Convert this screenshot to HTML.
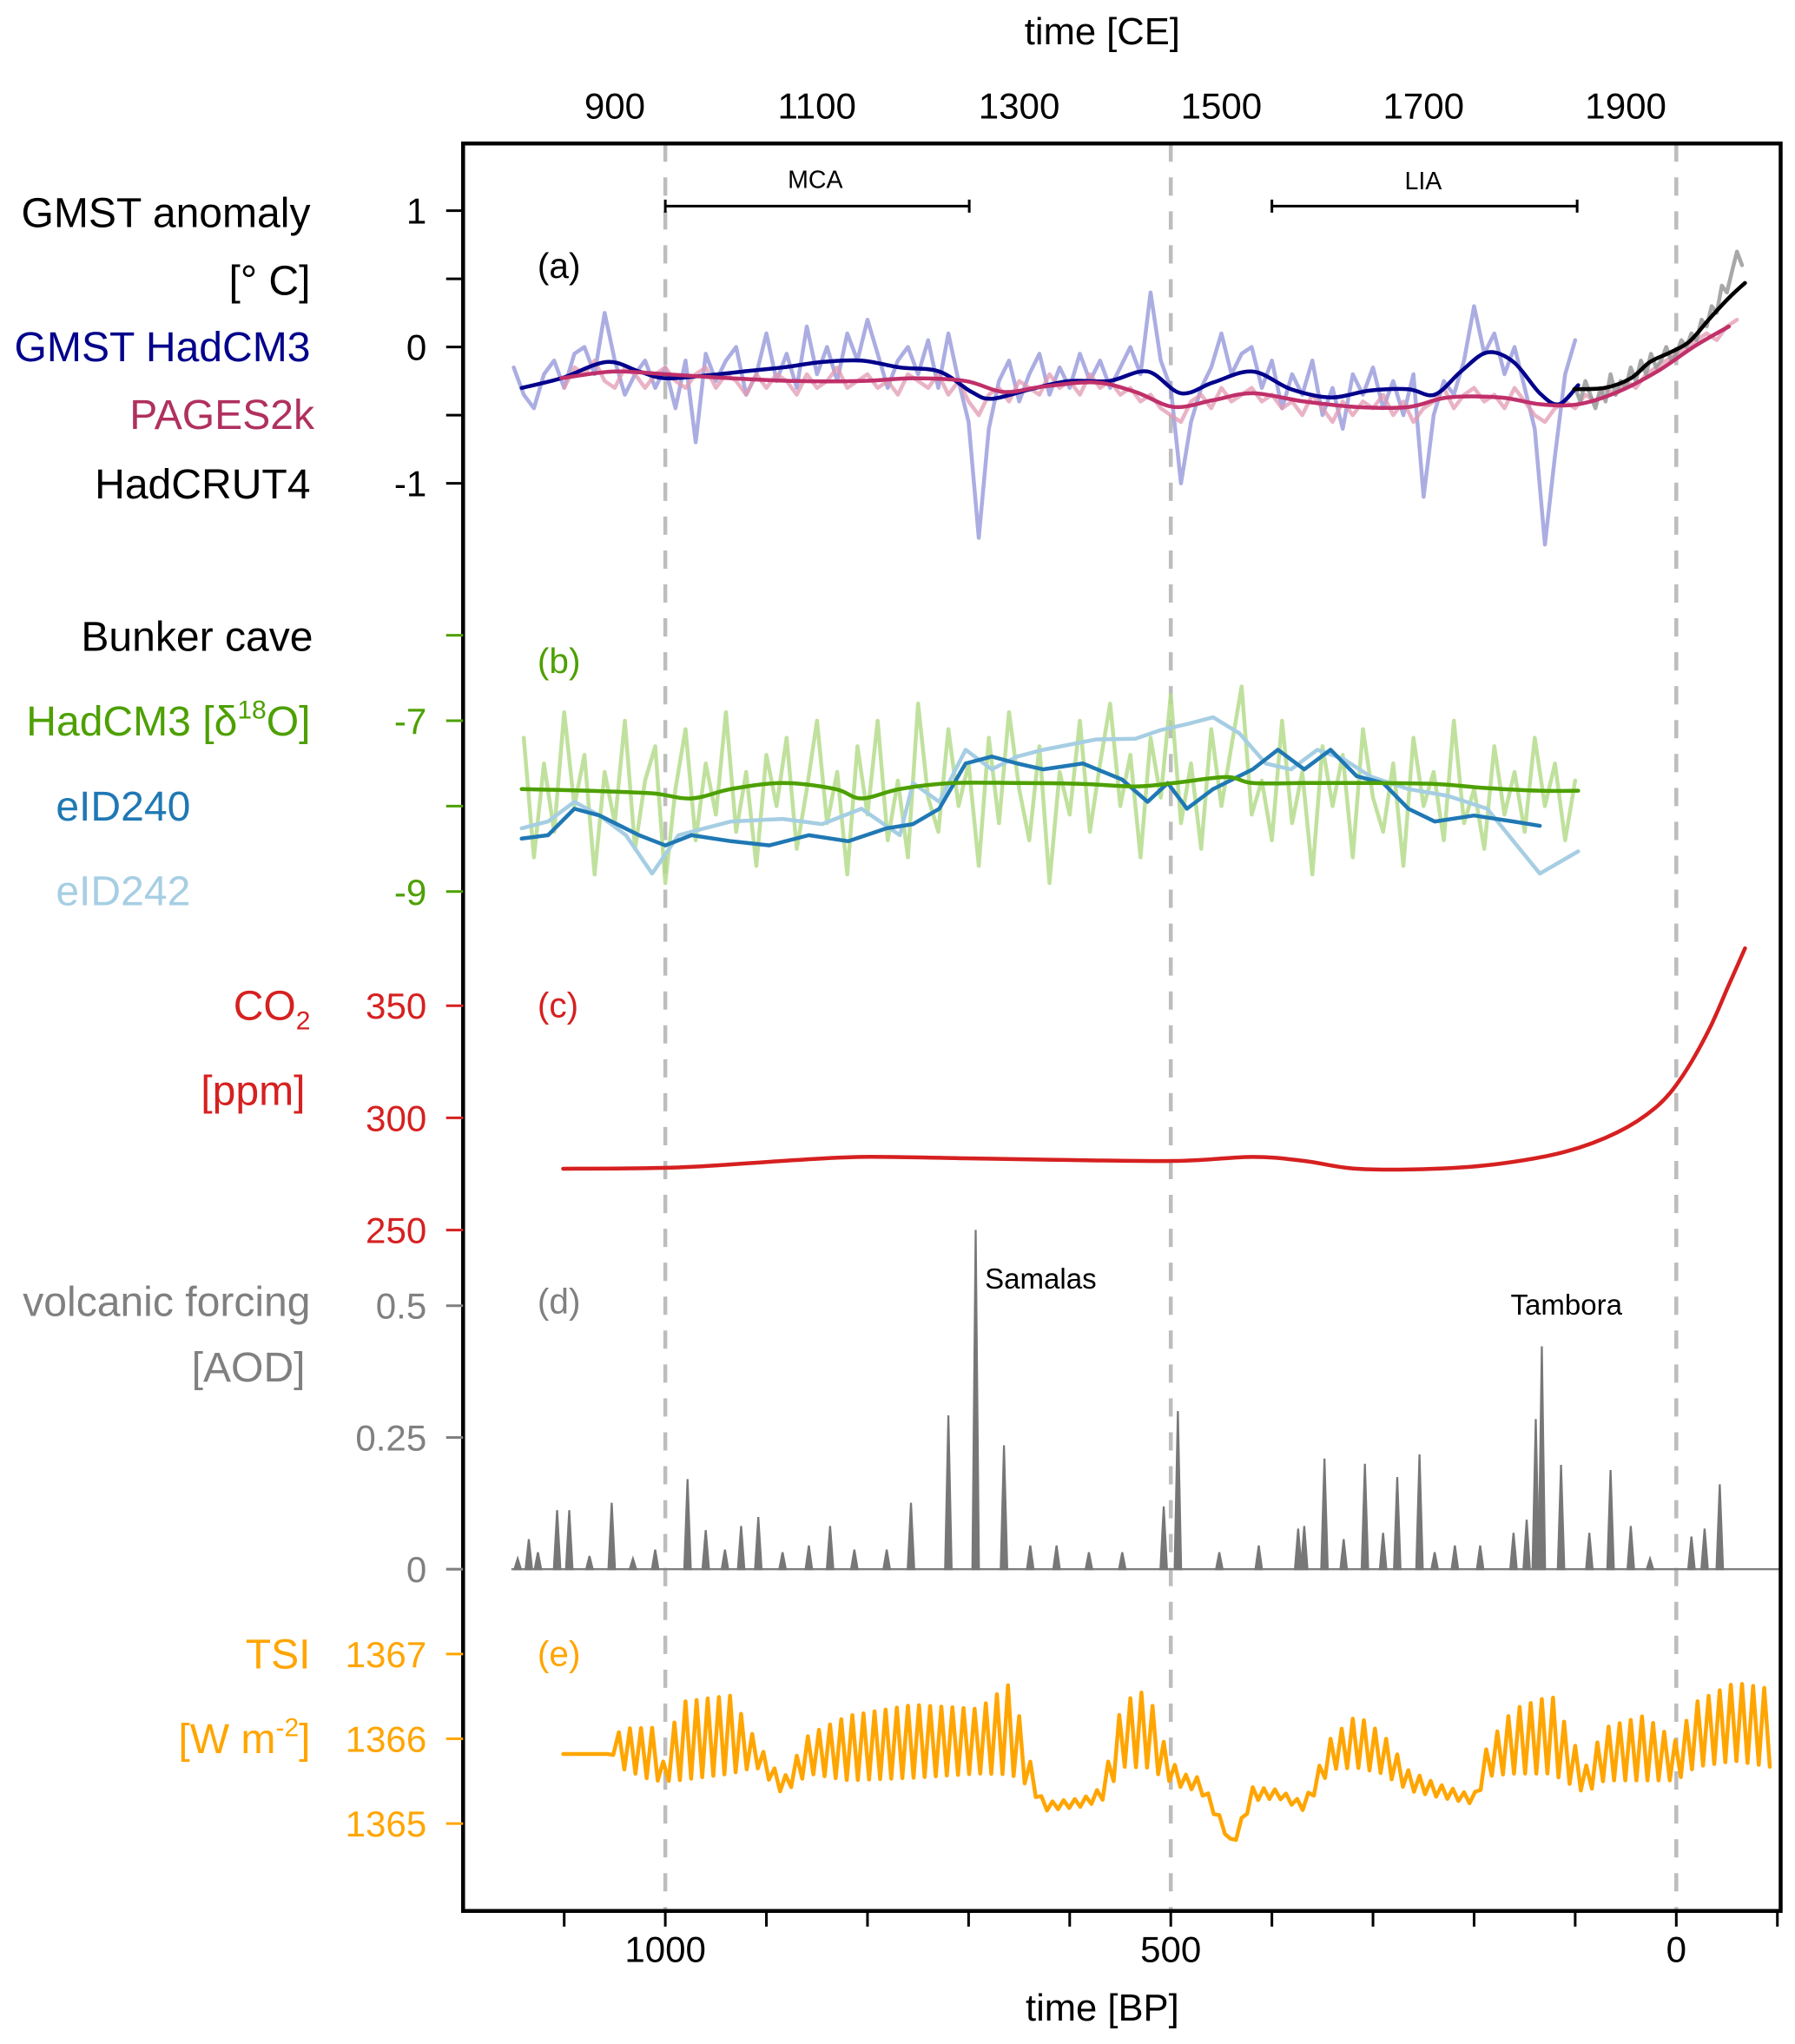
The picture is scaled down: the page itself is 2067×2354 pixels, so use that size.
<!DOCTYPE html>
<html><head><meta charset="utf-8"><title>Climate reconstruction chart</title>
<style>
html,body{margin:0;padding:0;background:#fff;}
svg{display:block;font-family:"Liberation Sans",Arial,sans-serif;}
</style></head>
<body>
<svg id="chart" width="2067" height="2354" viewBox="0 0 1376 1567" preserveAspectRatio="none" xmlns="http://www.w3.org/2000/svg">
<g id="grid"></g>
<g id="marks"></g>
<rect x="355" y="110" width="1010" height="1355" fill="none" stroke="#000" stroke-width="3"/>
<g id="axes"></g>
<g font-size="32" text-anchor="end">
<text x="238" y="174" fill="#000">GMST anomaly</text>
<text x="238" y="226" fill="#000">[° C]</text>
<text x="238" y="277" fill="#00008b">GMST HadCM3</text>
<text x="241" y="329" fill="#b0305f">PAGES2k</text>
<text x="238" y="382" fill="#000">HadCRUT4</text>
<text x="240" y="499" fill="#000">Bunker cave</text>
<text x="238" y="564" fill="#4da000">HadCM3 [δ<tspan font-size="20" dy="-13">18</tspan><tspan dy="13">O]</tspan></text>
<text x="146" y="629" fill="#1f78b4">eID240</text>
<text x="146" y="694" fill="#a6cee3">eID242</text>
<text x="238" y="782" fill="#d62020">CO<tspan font-size="20" dy="7">2</tspan></text>
<text x="234" y="847" fill="#d62020">[ppm]</text>
<text x="238" y="1009" fill="#808080">volcanic forcing</text>
<text x="234" y="1059" fill="#808080">[AOD]</text>
<text x="238" y="1279" fill="#ffa500">TSI</text>
<text x="238" y="1344" fill="#ffa500">[W m<tspan font-size="20" dy="-13">-2</tspan><tspan dy="13">]</tspan></text>
</g>
<g font-size="27">
<text x="412" y="213" fill="#000">(a)</text>
<text x="412" y="516" fill="#4da000">(b)</text>
<text x="412" y="780" fill="#d62020">(c)</text>
<text x="412" y="1007" fill="#808080">(d)</text>
<text x="412" y="1277" fill="#ffa500">(e)</text>
</g>
<g stroke="#000" stroke-width="2" fill="none">
<path d="M510 153V163M510 158H743M743 153V163"/>
<path d="M975 153V163M975 158H1209M1209 153V163"/>
</g>
<text x="625" y="144" font-size="19" text-anchor="middle">MCA</text>
<text x="1091" y="145" font-size="19" text-anchor="middle">LIA</text>
<text x="755" y="988" font-size="22">Samalas</text>
<text x="1158" y="1008" font-size="22">Tambora</text>
<text x="845" y="34" font-size="29" text-anchor="middle">time [CE]</text>
<text x="845" y="1549" font-size="29" text-anchor="middle">time [BP]</text>
</svg>
<script>
// ---------- data ----------
const gmstSmoothBP=[1142,1103,1058,1026,1000,961,923,884,845,806,768,729,697,677,639,600,561,523,490,458,419,381,342,303,265,239,213,187,161,135,116,97];
const gmstSmoothVal=[-0.30,-0.23,-0.11,-0.18,-0.23,-0.21,-0.18,-0.15,-0.11,-0.10,-0.15,-0.18,-0.33,-0.38,-0.31,-0.25,-0.25,-0.18,-0.34,-0.26,-0.18,-0.31,-0.37,-0.32,-0.31,-0.35,-0.18,-0.04,-0.11,-0.34,-0.42,-0.28];
const gmstNoisyStart=1150;
const gmstNoisyVal=[-0.15,-0.35,-0.45,-0.2,-0.1,-0.3,-0.05,0.0,-0.2,0.25,-0.1,-0.35,-0.2,-0.1,-0.3,-0.15,-0.45,-0.1,-0.7,-0.05,-0.25,-0.1,0.0,-0.35,-0.2,0.1,-0.25,-0.05,-0.3,0.15,-0.2,0.0,-0.25,0.1,-0.1,0.2,-0.05,-0.3,-0.1,0.0,-0.2,0.05,-0.3,0.1,-0.25,-0.55,-1.4,-0.6,-0.25,-0.1,-0.4,-0.2,-0.05,-0.35,-0.15,-0.3,-0.05,-0.25,-0.1,-0.3,-0.15,0.0,-0.2,0.4,-0.1,-0.3,-1.0,-0.55,-0.3,-0.15,0.1,-0.2,-0.05,0.0,-0.3,-0.1,-0.45,-0.2,-0.35,-0.1,-0.5,-0.3,-0.6,-0.2,-0.35,-0.15,-0.45,-0.25,-0.5,-0.2,-1.1,-0.5,-0.25,-0.35,-0.1,0.3,-0.05,0.1,-0.2,0.0,-0.3,-0.6,-1.45,-0.8,-0.2,0.05];
const pagesSmoothBP=[1103,1052,1000,935,871,806,755,703,665,626,574,535,497,458,419,368,316,265,226,174,135,97,58,19,-19,-52];
const pagesSmoothVal=[-0.23,-0.18,-0.20,-0.23,-0.25,-0.25,-0.23,-0.25,-0.33,-0.29,-0.26,-0.33,-0.44,-0.39,-0.34,-0.40,-0.44,-0.44,-0.37,-0.37,-0.42,-0.42,-0.33,-0.18,0.01,0.15];
const pagesNoisyStart=1100;
const pagesNoisyVal=[-0.3,-0.15,-0.2,-0.1,-0.25,-0.3,-0.15,-0.2,-0.3,-0.2,-0.15,-0.25,-0.3,-0.2,-0.15,-0.3,-0.2,-0.25,-0.35,-0.2,-0.3,-0.2,-0.25,-0.35,-0.2,-0.3,-0.25,-0.15,-0.3,-0.25,-0.2,-0.3,-0.25,-0.35,-0.2,-0.25,-0.3,-0.2,-0.35,-0.25,-0.4,-0.5,-0.35,-0.3,-0.4,-0.25,-0.3,-0.35,-0.2,-0.3,-0.25,-0.35,-0.2,-0.3,-0.25,-0.35,-0.3,-0.4,-0.35,-0.45,-0.5,-0.55,-0.4,-0.35,-0.45,-0.3,-0.4,-0.35,-0.3,-0.4,-0.35,-0.45,-0.4,-0.5,-0.35,-0.45,-0.55,-0.4,-0.5,-0.4,-0.45,-0.35,-0.5,-0.4,-0.55,-0.45,-0.4,-0.3,-0.45,-0.35,-0.3,-0.4,-0.35,-0.45,-0.3,-0.4,-0.5,-0.55,-0.45,-0.4,-0.45,-0.35,-0.4,-0.3,-0.35,-0.25,-0.3,-0.2,-0.15,-0.1,-0.05,0.0,0.05,0.1,0.05,0.15,0.2];
const hadcrutSmoothBP=[101,71,45,26,6,-13,-32,-52,-68];
const hadcrutSmoothVal=[-0.31,-0.30,-0.23,-0.11,-0.04,0.04,0.20,0.36,0.47];
const hadcrutNoisyStart=100;
const hadcrutNoisyVal=[-0.3,-0.4,-0.25,-0.35,-0.45,-0.3,-0.4,-0.2,-0.35,-0.25,-0.3,-0.15,-0.25,-0.1,-0.2,-0.05,-0.15,-0.1,0.0,-0.1,-0.05,0.05,0.0,0.1,0.05,0.2,0.15,0.3,0.25,0.45,0.4,0.55,0.7,0.6];
const d18oNoisyStart=1140;
const d18oNoisyVal=[-7.2,-8.6,-7.5,-8.3,-6.9,-8.0,-7.4,-8.8,-7.6,-8.2,-7.0,-8.5,-7.7,-7.3,-8.9,-7.8,-7.1,-8.4,-7.5,-8.1,-6.9,-8.3,-7.6,-8.7,-7.4,-8.0,-7.2,-8.5,-7.8,-7.0,-8.2,-7.6,-8.8,-7.3,-8.1,-7.0,-8.4,-7.7,-8.6,-6.8,-7.9,-8.3,-7.1,-8.0,-7.5,-8.7,-7.2,-8.2,-6.9,-7.8,-8.4,-7.3,-8.9,-7.6,-8.1,-7.0,-8.3,-7.5,-6.8,-8.0,-7.4,-8.6,-7.2,-7.9,-6.7,-8.2,-7.5,-8.5,-7.1,-8.0,-7.3,-6.6,-8.1,-7.7,-8.4,-7.0,-8.2,-7.6,-8.8,-7.3,-8.0,-7.4,-8.6,-7.1,-7.9,-8.3,-7.5,-8.7,-7.2,-8.0,-7.6,-8.4,-7.0,-8.2,-7.8,-8.5,-7.3,-8.1,-7.6,-8.3,-7.2,-8.0,-7.5,-8.4,-7.7];
const d18oSmoothBP=[1142,1077,1013,974,935,884,832,806,768,716,652,587,535,497,445,419,368,303,239,187,135,97];
const d18oSmoothVal=[-7.80,-7.82,-7.85,-7.91,-7.80,-7.73,-7.80,-7.91,-7.80,-7.73,-7.73,-7.74,-7.77,-7.73,-7.66,-7.73,-7.73,-7.73,-7.74,-7.79,-7.82,-7.82];
const eid240BP=[1142,1116,1090,1065,1026,1000,974,935,897,858,819,781,755,729,703,677,652,626,587,548,523,503,484,458,419,394,368,342,316,290,265,239,200,161,135];
const eid240Val=[-8.38,-8.34,-8.03,-8.11,-8.34,-8.46,-8.34,-8.41,-8.46,-8.34,-8.41,-8.26,-8.21,-8.03,-7.50,-7.42,-7.50,-7.57,-7.50,-7.69,-7.95,-7.73,-8.03,-7.80,-7.57,-7.34,-7.57,-7.34,-7.65,-7.73,-8.03,-8.18,-8.11,-8.18,-8.23];
const eid242BP=[1142,1116,1090,1065,1039,1013,987,961,935,884,845,806,768,755,729,703,677,652,626,574,535,510,484,458,432,406,381,355,329,303,265,226,187,161,135,97];
const eid242Val=[-8.26,-8.18,-7.95,-8.11,-8.34,-8.79,-8.34,-8.26,-8.18,-8.15,-8.21,-8.03,-8.34,-7.73,-7.95,-7.34,-7.57,-7.42,-7.34,-7.22,-7.21,-7.11,-7.04,-6.96,-7.15,-7.50,-7.57,-7.34,-7.45,-7.65,-7.80,-7.88,-8.03,-8.41,-8.79,-8.53];
const co2BP=[1101,987,884,806,703,626,497,419,368,316,239,174,110,58,19,-6,-32,-52,-68];
const co2Val=[277.3,277.9,280.8,282.6,282.0,281.4,280.8,282.6,280.8,277.3,277.3,279.6,284.9,293.6,305.2,318.6,339.0,359.3,375.6];
const volcBP=[1146,1135,1126,1107,1095,1075,1053,1032,1010,978,960,941,925,908,884,858,837,813,781,757,720,693,665,639,613,581,548,507,493,452,413,374,368,348,329,308,290,276,254,239,219,194,161,148,139,133,114,86,65,45,26,-15,-28,-43];
const volcAOD=[0.02,0.057,0.032,0.112,0.112,0.025,0.126,0.02,0.037,0.171,0.074,0.037,0.082,0.099,0.032,0.045,0.082,0.037,0.037,0.126,0.292,0.644,0.235,0.045,0.045,0.032,0.032,0.119,0.30,0.032,0.045,0.077,0.082,0.21,0.057,0.20,0.069,0.175,0.218,0.032,0.045,0.045,0.069,0.094,0.285,0.423,0.198,0.069,0.188,0.082,0.02,0.062,0.077,0.161];
const tsiBP=[1101,1052,1045,1013,1000,987,935,910,884,858,819,755,690,658,639,626,587,568,548,523,503,490,471,452,439,419,394,368,342,316,290,265,239,200,187,161,123,90,71,32,0,-19,-58,-97];
const tsiMean=[1365.82,1365.82,1365.89,1365.82,1365.58,1365.97,1366.05,1365.82,1365.43,1365.82,1365.89,1365.97,1365.97,1366.12,1365.58,1365.2,1365.25,1365.35,1366.05,1366.12,1365.66,1365.51,1365.46,1365.05,1364.74,1365.35,1365.35,1365.2,1365.82,1365.97,1365.82,1365.51,1365.4,1365.28,1365.74,1365.97,1366.05,1365.51,1365.82,1365.89,1365.74,1366.05,1366.2,1366.12];
const tsiCycleAmp=[0,0,0.23,0.31,0.08,0.46,0.46,0.15,0.08,0.23,0.38,0.43,0.38,0.54,0.15,0.05,0.05,0.08,0.38,0.46,0.15,0.08,0.08,0.05,0.03,0.08,0.05,0.05,0.18,0.31,0.23,0.12,0.08,0.05,0.18,0.38,0.46,0.15,0.31,0.38,0.23,0.38,0.46,0.46];
const ceTicks=[900,1100,1300,1500,1700,1900];
const bpTicks=[1000,500,0];

// ---------- scales ----------
const xBP=bp=>1285-0.775*bp;
const yA=v=>266-104.5*v;
const yB=v=>618-65.5*(v+8);
const yC=v=>857-1.72*(v-300);
const yD=v=>1203-404*v;
const yE=v=>1333-65*(v-1366);
const NS='http://www.w3.org/2000/svg';
const marks=document.getElementById('marks');
const axes=document.getElementById('axes');
const grid=document.getElementById('grid');
function mk(tag,attrs,parent){const e=document.createElementNS(NS,tag);for(const k in attrs)e.setAttribute(k,attrs[k]);parent.appendChild(e);return e;}
function linePath(xs,ys){return xs.map((x,i)=>(i?'L':'M')+x.toFixed(1)+' '+ys[i].toFixed(1)).join('');}
function smoothPath(xs,ys){let d='M'+xs[0].toFixed(1)+' '+ys[0].toFixed(1);for(let i=0;i<xs.length-1;i++){const x0=xs[Math.max(i-1,0)],y0=ys[Math.max(i-1,0)],x1=xs[i],y1=ys[i],x2=xs[i+1],y2=ys[i+1],x3=xs[Math.min(i+2,xs.length-1)],y3=ys[Math.min(i+2,xs.length-1)];d+='C'+(x1+(x2-x0)/6).toFixed(1)+' '+(y1+(y2-y0)/6).toFixed(1)+' '+(x2-(x3-x1)/6).toFixed(1)+' '+(y2-(y3-y1)/6).toFixed(1)+' '+x2.toFixed(1)+' '+y2.toFixed(1);}return d;}
function seriesStep(start,step,vals){return vals.map((v,i)=>start-step*i);}
function addPath(name,d,stroke,w,op){const p=mk('path',{d:d,fill:'none',stroke:stroke,'stroke-width':w,'stroke-opacity':op,'stroke-linejoin':'round','stroke-linecap':'round'},marks);


return p;}

bpTicks.forEach(b=>{const l=mk('line',{x1:xBP(b),x2:xBP(b),y1:110,y2:1465,stroke:'#bdbdbd','stroke-width':3,'stroke-dasharray':'14,12'},grid);

});

let bps=seriesStep(gmstNoisyStart,10,gmstNoisyVal);
addPath('gmst-hadcm3-annual',linePath(bps.map(xBP),gmstNoisyVal.map(yA)),'#8f92d8',3,0.75);
bps=seriesStep(pagesNoisyStart,10,pagesNoisyVal);
addPath('pages2k-annual',linePath(bps.map(xBP),pagesNoisyVal.map(yA)),'#e29ab2',3,0.75);
bps=seriesStep(hadcrutNoisyStart,5,hadcrutNoisyVal);
addPath('hadcrut4-annual',linePath(bps.map(xBP),hadcrutNoisyVal.map(yA)),'#999',3,0.85);
addPath('gmst-hadcm3-smooth',smoothPath(gmstSmoothBP.map(xBP),gmstSmoothVal.map(yA)),'#00008b',3,1);
addPath('pages2k-smooth',smoothPath(pagesSmoothBP.map(xBP),pagesSmoothVal.map(yA)),'#c0306a',3,1);
addPath('hadcrut4-smooth',smoothPath(hadcrutSmoothBP.map(xBP),hadcrutSmoothVal.map(yA)),'#000',3,1);
bps=seriesStep(d18oNoisyStart,10,d18oNoisyVal);
addPath('hadcm3-d18o-annual',linePath(bps.map(xBP),d18oNoisyVal.map(yB)),'#b5dc8c',3,0.85);
addPath('eid242-line',linePath(eid242BP.map(xBP),eid242Val.map(yB)),'#a6cee3',3,1);
addPath('eid240-line',linePath(eid240BP.map(xBP),eid240Val.map(yB)),'#1f78b4',3,1);
addPath('hadcm3-d18o-smooth',smoothPath(d18oSmoothBP.map(xBP),d18oSmoothVal.map(yB)),'#4da000',3,1);
addPath('co2-line',smoothPath(co2BP.map(xBP),co2Val.map(yC)),'#d62020',3,1);
const base=mk('line',{x1:392,x2:1365,y1:yD(0),y2:yD(0),stroke:'#808080','stroke-width':1.5},marks);


volcBP.forEach((b,i)=>{const x=xBP(b);const p=mk('path',{d:'M'+(x-2.5)+' '+yD(0)+'L'+x+' '+yD(volcAOD[i])+'L'+(x+2.5)+' '+yD(0)+'Z',fill:'#777',stroke:'#777','stroke-width':1.5},marks);

});
function interp(arrX,arrY,x){for(let i=0;i<arrX.length-1;i++){if(x<=arrX[i]&&x>=arrX[i+1]){const t=(arrX[i]-x)/(arrX[i]-arrX[i+1]);return arrY[i]+t*(arrY[i+1]-arrY[i]);}}return arrY[arrY.length-1];}
const tX=[],tY=[];let k=0;
for(let b=tsiBP[0];b>=tsiBP[tsiBP.length-1];b-=5.5,k++){const m=interp(tsiBP,tsiMean,b),a=interp(tsiBP,tsiCycleAmp,b);const x=xBP(b);if(x>1363)break;tX.push(x);tY.push(yE(m+(k%2?-a:a)));}
addPath('tsi-line',linePath(tX,tY),'#ffa500',3,1);

function ytick(y,label,color,name){const l=mk('line',{x1:342,x2:355,y1:y,y2:y,stroke:color,'stroke-width':2},axes);


if(label!==''){const t=mk('text',{x:327,y:y+10,'text-anchor':'end','font-size':28,fill:color},axes);t.textContent=label;

}}
const aT=[[1,'1'],[0.5,''],[0,'0'],[-0.5,''],[-1,'-1']];aT.forEach(t=>ytick(yA(t[0]),t[1],'#000','gmst-axis'));
const bT=[[-6,''],[-7,'-7'],[-8,''],[-9,'-9']];bT.forEach(t=>ytick(yB(t[0]),t[1],'#4da000','d18o-axis'));
const cT=[[350,'350'],[300,'300'],[250,'250']];cT.forEach(t=>ytick(yC(t[0]),t[1],'#d62020','co2-axis'));
const dT=[[0.5,'0.5'],[0.25,'0.25'],[0,'0']];dT.forEach(t=>ytick(yD(t[0]),t[1],'#808080','aod-axis'));
const eT=[[1367,'1367'],[1366,'1366'],[1365,'1365']];eT.forEach(t=>ytick(yE(t[0]),t[1],'#ffa500','tsi-axis'));
for(let b=1100;b>=-100;b-=100){const x=xBP(b);const l=mk('line',{x1:x,x2:x,y1:1465,y2:1477,stroke:'#000','stroke-width':2},axes);

}
bpTicks.forEach(b=>{const t=mk('text',{x:xBP(b),y:1504,'text-anchor':'middle','font-size':28},axes);t.textContent=String(b);

});
ceTicks.forEach(c=>{const t=mk('text',{x:xBP(1950-c),y:91,'text-anchor':'middle','font-size':28},axes);t.textContent=String(c);

});
</script>
</body></html>
